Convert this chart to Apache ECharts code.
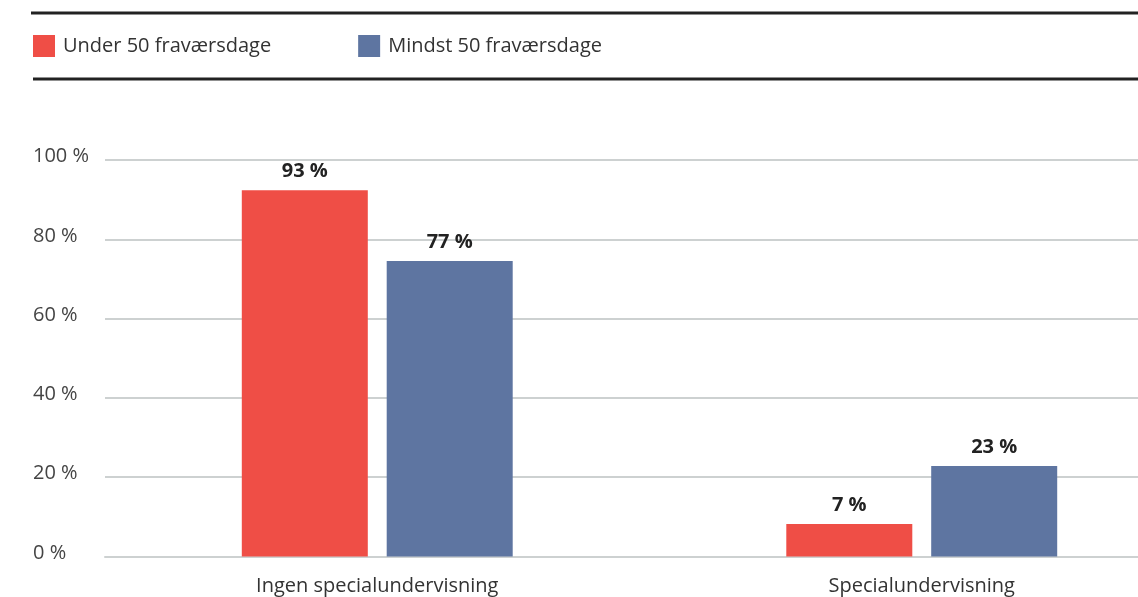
<!DOCTYPE html>
<html>
<head>
<meta charset="utf-8">
<script src="https://cdn.jsdelivr.net/npm/echarts@6/dist/echarts.min.js"></script>
<style>
  html, body { margin: 0; padding: 0; background: #fff; overflow: hidden; }
  /* the source chart is cropped on the right, so the canvas runs past the window */
  #chart { width: 1194px; height: 597px; }
</style>
</head>
<body>
<div id="chart"></div>
<script>
// data
const categories = ["Ingen specialundervisning", "Specialundervisning"];
const seriesNames = ["Under 50 fraværsdage", "Mindst 50 fraværsdage"];
const underValues = [92.4, 8.2];   // bar heights as drawn
const mindstValues = [74.5, 22.8];
const underLabels = ["93 %", "7 %"]; // printed labels
const mindstLabels = ["77 %", "23 %"];
const yTicks = [0, 20, 40, 60, 80, 100];

const chart = echarts.init(document.getElementById("chart"));

const labelStyle = (texts) => ({
  show: true,
  position: "top",
  distance: 9,
  fontFamily: "Open Sans",
  fontWeight: "bold",
  fontSize: 20,
  color: "#222",
  formatter: (p) => texts[p.dataIndex],
});

chart.setOption({
  animation: false,
  textStyle: { fontFamily: "Open Sans" },
  legend: {
    left: 33,
    top: 35,
    padding: 0,
    itemWidth: 22,
    itemHeight: 22,
    itemGap: 87,
    icon: "rect",
    textStyle: { fontSize: 20, color: "#333", padding: [0, 0, 0, 3] },
    data: seriesNames,
  },
  graphic: [
    { type: "line", shape: { x1: 31, y1: 13, x2: 1194, y2: 13 }, style: { stroke: "#222", lineWidth: 3 } },
    { type: "line", shape: { x1: 33, y1: 79, x2: 1194, y2: 79 }, style: { stroke: "#222", lineWidth: 3 } },
  ],
  grid: { left: 105, right: 0, top: 160, bottom: 40.5 },
  xAxis: {
    type: "category",
    data: categories,
    axisLine: { show: true, lineStyle: { color: "#cdd1d1", width: 2 } },
    axisTick: { show: false },
    axisLabel: { fontSize: 20, color: "#333", margin: 20 },
  },
  yAxis: {
    type: "value",
    min: yTicks[0],
    max: yTicks[yTicks.length - 1],
    interval: 20,
    axisLine: { show: false },
    axisTick: { show: false },
    splitLine: { lineStyle: { color: "#cdd1d1", width: 2 } },
    axisLabel: {
      formatter: "{value} %",
      align: "left",
      verticalAlign: "bottom",
      lineHeight: 7,
      margin: 72,
      fontSize: 20,
      color: "#444",
    },
  },
  series: [
    {
      name: seriesNames[0],
      type: "bar",
      barWidth: 126,
      barGap: "15%",
      itemStyle: { color: "#ef4e46" },
      label: labelStyle(underLabels),
      data: underValues,
    },
    {
      name: seriesNames[1],
      type: "bar",
      barWidth: 126,
      itemStyle: { color: "#5e75a1" },
      label: labelStyle(mindstLabels),
      data: mindstValues,
    },
  ],
});
</script>
</body>
</html>
